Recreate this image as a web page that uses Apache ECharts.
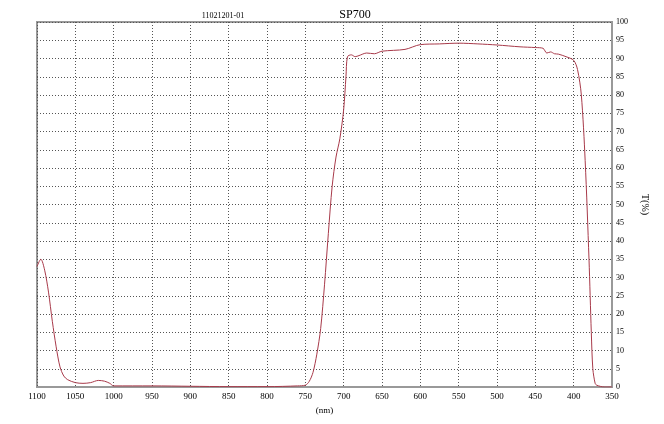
<!DOCTYPE html><html><head><meta charset="utf-8"><script src="https://cdn.jsdelivr.net/npm/echarts@6/dist/echarts.min.js"></script></head><body style="margin:0;background:#fff"><div id="c" style="width:664px;height:424px"></div><script>
const wavelengths=[1100,1095,1090,1085,1080,1075,1070,1065,1060,1050,1040,1030,1020,1012,1005,1000,950,900,850,800,760,750,745,740,735,730,725,720,715,710,705,700,697,695,690,685,680,670,660,650,620,600,575,550,525,500,470,450,440,435,430,425,420,410,400,395,390,385,380,377,375,372,370,360,350];
const transmittance=[33,35,32,26,18,11,5.5,3,2,1.2,1,1.2,1.8,1.6,1,0.3,0.3,0.2,0.1,0.1,0.3,0.5,1.5,4,9,16,28,42,55,63,68,76,85,90.5,91,90.5,90.8,91.5,91.3,92,92.5,93.8,94,94.2,94,93.7,93.2,93,92.8,91.5,91.8,91.3,91.2,90.5,89.5,87,80,62,35,15,5,1,0.5,0,0];
const xTicks={min:350,max:1100,interval:50};
const c=echarts.init(document.getElementById('c'));
c.setOption({animation:false,
title:[{text:'SP700',left:350,top:4,textStyle:{fontFamily:'Liberation Serif',fontSize:12,fontWeight:'normal',color:'#000'},textAlign:'center'},
{text:'11021201-01',left:218,top:7,textStyle:{fontFamily:'Liberation Serif',fontSize:8,fontWeight:'normal',color:'#000'},textAlign:'center'}],
grid:{left:37,right:52,top:22,bottom:37},
xAxis:{type:'value',inverse:true,min:xTicks.min,max:xTicks.max,interval:xTicks.interval,name:'(nm)',nameLocation:'middle',nameGap:19,nameTextStyle:{fontFamily:'Liberation Serif',fontSize:9,color:'#000'},
axisLine:{lineStyle:{color:'#999',width:2}},axisTick:{show:false},axisLabel:{fontFamily:'Liberation Serif',fontSize:9,color:'#000',margin:5,formatter:v=>String(v)},
splitLine:{lineStyle:{color:'#555',type:[1,2],width:1}}},
yAxis:{type:'value',position:'right',min:0,max:100,interval:5,name:'T(%)',nameLocation:'middle',nameGap:28,nameRotate:-90,nameTextStyle:{fontFamily:'Liberation Serif',fontSize:10,color:'#000'},
axisLine:{show:true,lineStyle:{color:'#999',width:1}},axisTick:{show:false},axisLabel:{fontFamily:'Liberation Serif',fontSize:8,color:'#000',margin:4},
splitLine:{lineStyle:{color:'#555',type:[1,2],width:1}}},
graphic:[{type:'rect',shape:{x:37,y:22,width:575,height:365},style:{fill:'none',stroke:'#999',lineWidth:2},silent:true,z:-1}],
series:[{type:'line',data:wavelengths.map((w,i)=>[w,transmittance[i]]),showSymbol:false,smooth:0.3,lineStyle:{color:'#a83a4a',width:1}}]});
</script></body></html>
